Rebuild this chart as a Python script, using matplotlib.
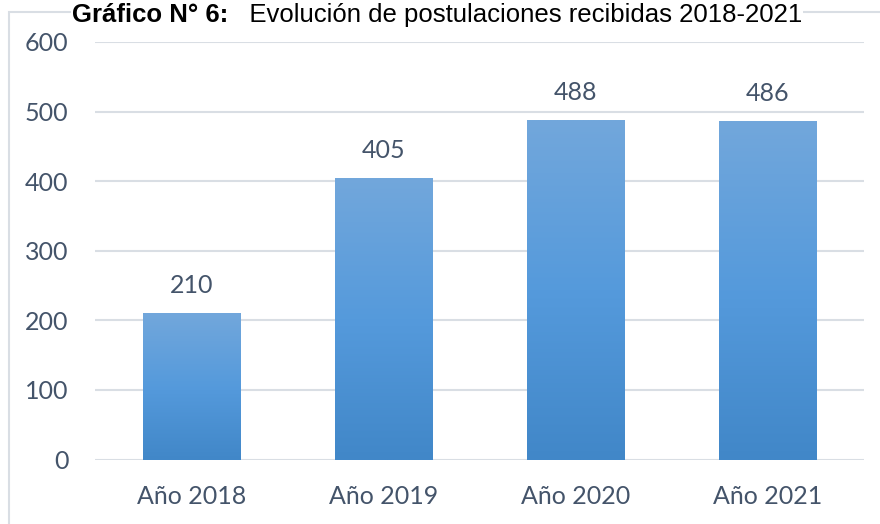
import matplotlib.pyplot as plt
import numpy as np
from matplotlib.colors import LinearSegmentedColormap
from matplotlib.patches import Rectangle

# data
years = ["Año 2018", "Año 2019", "Año 2020", "Año 2021"]
postulaciones = [210, 405, 488, 486]
yticks = [0, 100, 200, 300, 400, 500, 600]

label_color = "#44546A"
grid_color = "#D9DEE4"
plt.rcParams['font.family'] = ['Lato', 'DejaVu Sans']

fig = plt.figure(figsize=(8.8, 5.24), dpi=100)
ax = fig.add_axes([0.108, 0.123, 0.874, 0.797])

# vertical gradient used for every bar (light on top, darker at the bottom)
grad = LinearSegmentedColormap.from_list("bar", ["#4187C8", "#559ADC", "#72A7DB"])
gimg = np.linspace(0, 1, 256).reshape(-1, 1)

x = np.arange(len(years))
width = 0.505
bars = ax.bar(x, postulaciones, width=width, color="none", zorder=3)
for b, v in zip(bars, postulaciones):
    x0 = b.get_x()
    ax.imshow(gimg, cmap=grad, origin="lower", aspect="auto",
              extent=[x0, x0 + b.get_width(), 0, v], zorder=3)
    ax.text(b.get_x() + b.get_width() / 2, v + 23, str(v),
            ha="center", va="bottom", fontsize=18, color=label_color)

ax.set_xlim(-0.5, len(years) - 0.5)
ax.set_ylim(0, 600)
ax.set_yticks(yticks)
ax.set_xticks(x)
ax.set_xticklabels(years)
ax.yaxis.grid(True, color=grid_color, linewidth=1.5, zorder=0)
ax.set_axisbelow(True)
for s in ax.spines.values():
    s.set_visible(False)
ax.tick_params(axis="both", length=0, labelsize=18, labelcolor=label_color)
ax.tick_params(axis="y", pad=19)
ax.tick_params(axis="x", pad=18)

# chart frame (only top/left visible in the crop)
fig.patches.append(Rectangle((9 / 880, -0.1), 1.1, 1 - 12 / 524 + 0.1,
                             transform=fig.transFigure, fill=False,
                             edgecolor=grid_color, linewidth=1.5, zorder=0))

# title: bold part then normal part, placed right after it
ty = 1 - 22 / 524
t1 = fig.text(72 / 880, ty, "Gráfico N° 6:", fontsize=18.5, fontweight="bold",
              family="Liberation Sans", color="black", va="baseline", zorder=6,
              bbox=dict(facecolor="white", edgecolor="none", pad=1))
fig.canvas.draw()
bb = t1.get_window_extent(fig.canvas.get_renderer())
fig.text(bb.x1 / 880, ty, "   Evolución de postulaciones recibidas 2018-2021",
         fontsize=18.5, family="Liberation Sans", color="black", va="baseline", zorder=5,
         bbox=dict(facecolor="white", edgecolor="none", pad=0.5))

fig.savefig("out.png", dpi=100)
